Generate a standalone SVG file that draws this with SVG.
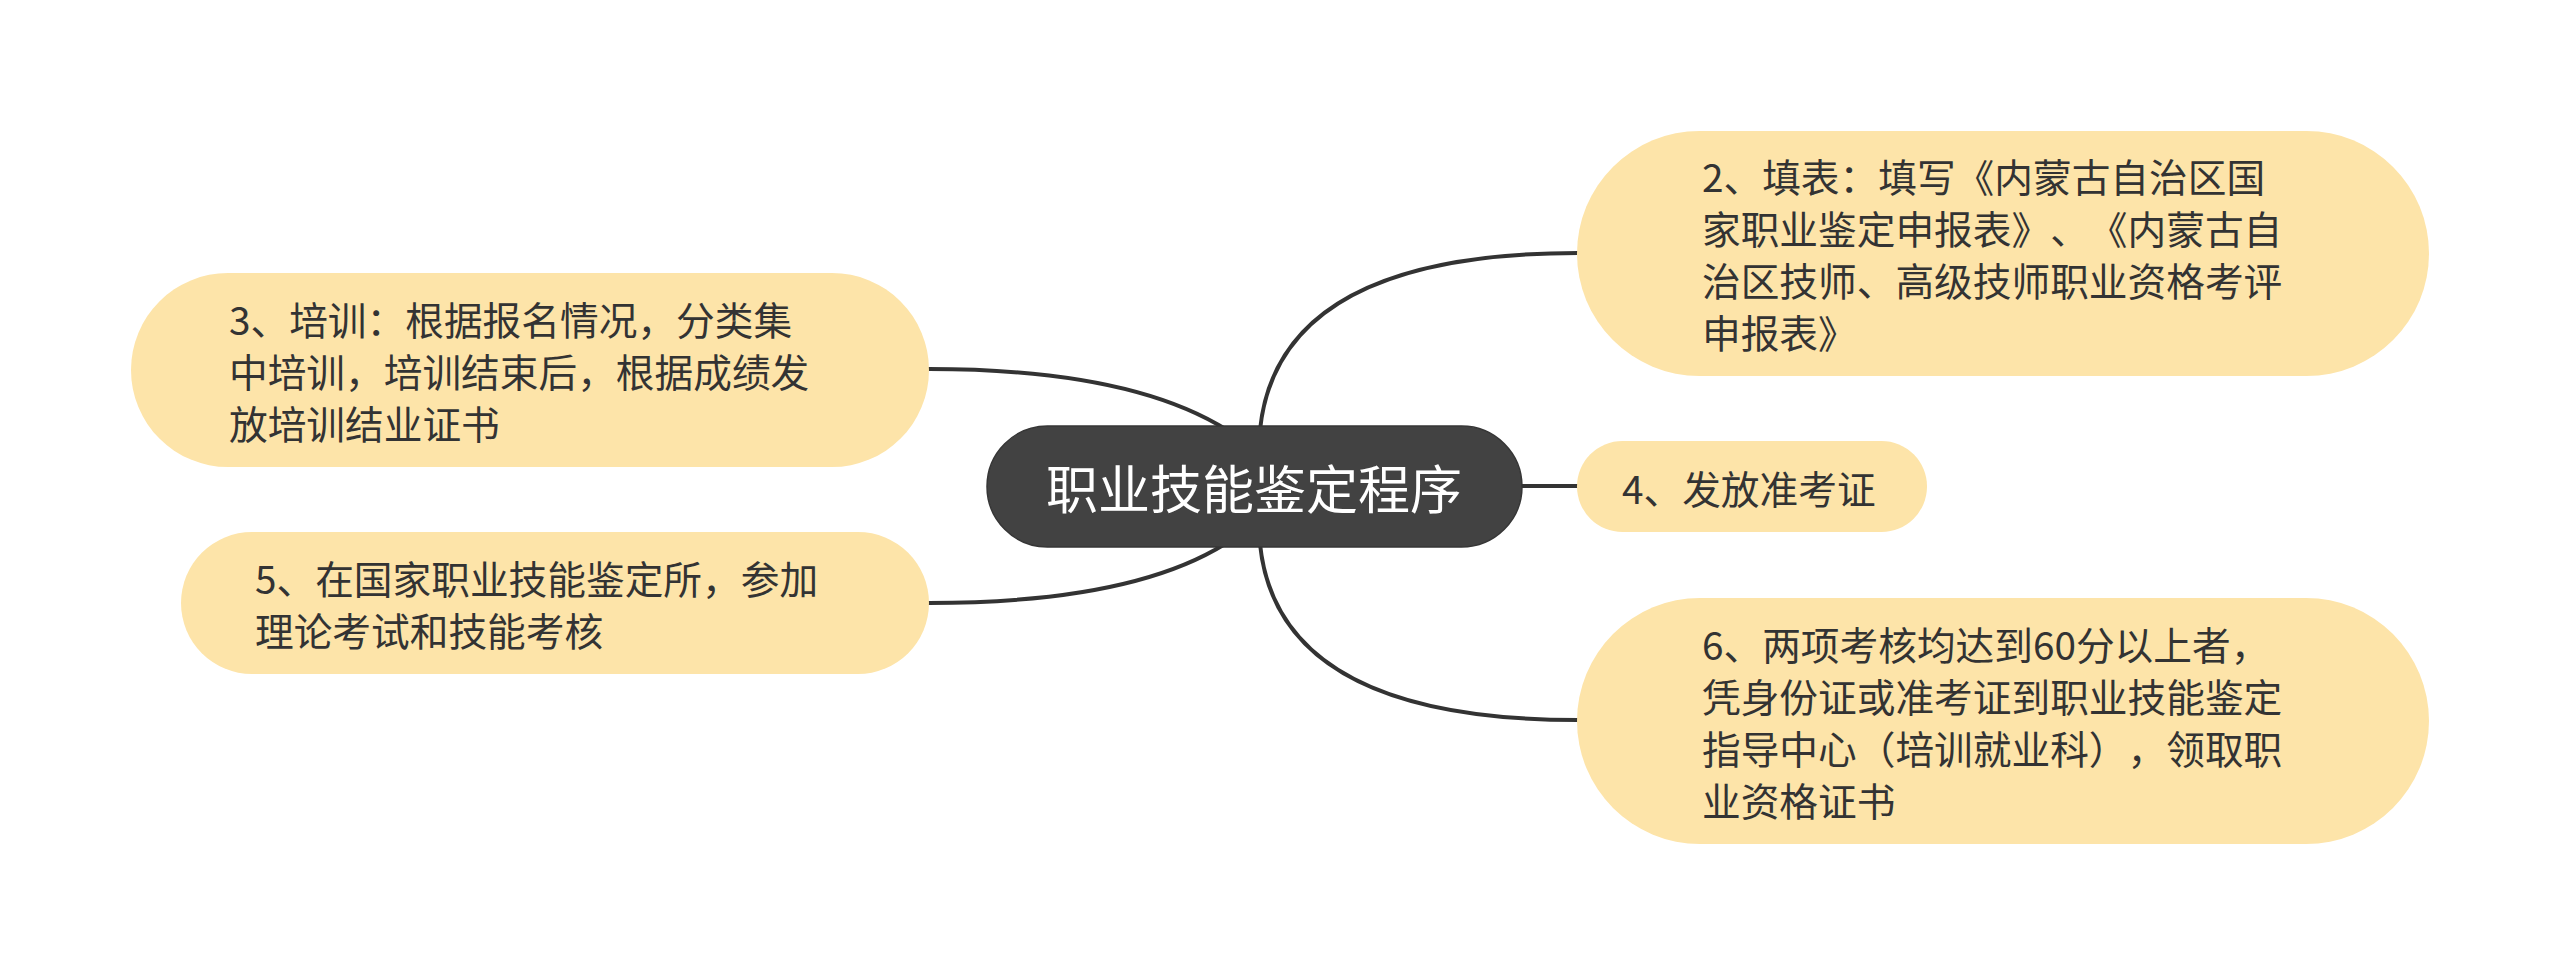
<svg xmlns="http://www.w3.org/2000/svg" width="2560" height="973" viewBox="0 0 2560 973">
<style>
.pill{fill:#fde4a9;}
.t{font-family:"Noto Sans CJK SC","Noto Sans",sans-serif;font-size:38.7px;fill:#333333;dominant-baseline:central;text-spacing-trim:space-all;font-kerning:none;}
.ct{font-family:"Noto Sans CJK SC","Noto Sans",sans-serif;font-size:52px;fill:#ffffff;dominant-baseline:central;text-anchor:middle;}
.c{fill:none;stroke:#333333;stroke-width:4;stroke-linecap:round;}
</style>
<rect width="2560" height="973" fill="#ffffff"/>
<g id="connectors">
<path class="c" d="M1260,430 Q1278,253 1578,253"/>
<path class="c" d="M1227,430 Q1130,369 929,369"/>
<path class="c" d="M1225,544 Q1130,603 929,603"/>
<path class="c" d="M1260,544 Q1278,720 1578,720"/>
<path class="c" d="M1520,486 L1578,486"/>
</g>
<g id="center">
<rect x="987" y="426" width="535" height="121" rx="60.5" fill="#424242" stroke="#363636" stroke-width="1.5"/>
<text class="ct" x="1254" y="486">职业技能鉴定程序</text>
</g>
<g id="node2">
<rect class="pill" x="1577" y="131" width="852" height="245" rx="122.5"/>
<text class="t" x="1702" y="175">2、填表：填写《内蒙古自治区国</text>
<text class="t" x="1702" y="227">家职业鉴定申报表》、《内蒙古自</text>
<text class="t" x="1702" y="279">治区技师、高级技师职业资格考评</text>
<text class="t" x="1702" y="331">申报表》</text>
</g>
<g id="node3">
<rect class="pill" x="131" y="273" width="798" height="194" rx="97"/>
<text class="t" x="229" y="318">3、培训：根据报名情况，分类集</text>
<text class="t" x="229" y="370">中培训，培训结束后，根据成绩发</text>
<text class="t" x="229" y="422">放培训结业证书</text>
</g>
<g id="node4">
<rect class="pill" x="1577" y="441" width="350" height="91" rx="45.5"/>
<text class="t" x="1622" y="486.5">4、发放准考证</text>
</g>
<g id="node5">
<rect class="pill" x="181" y="532" width="748" height="142" rx="71"/>
<text class="t" x="255" y="577">5、在国家职业技能鉴定所，参加</text>
<text class="t" x="255" y="629">理论考试和技能考核</text>
</g>
<g id="node6">
<rect class="pill" x="1577" y="598" width="852" height="246" rx="123"/>
<text class="t" x="1702" y="643">6、两项考核均达到60分以上者，</text>
<text class="t" x="1702" y="695">凭身份证或准考证到职业技能鉴定</text>
<text class="t" x="1702" y="747">指导中心（培训就业科），领取职</text>
<text class="t" x="1702" y="799">业资格证书</text>
</g>
</svg>
